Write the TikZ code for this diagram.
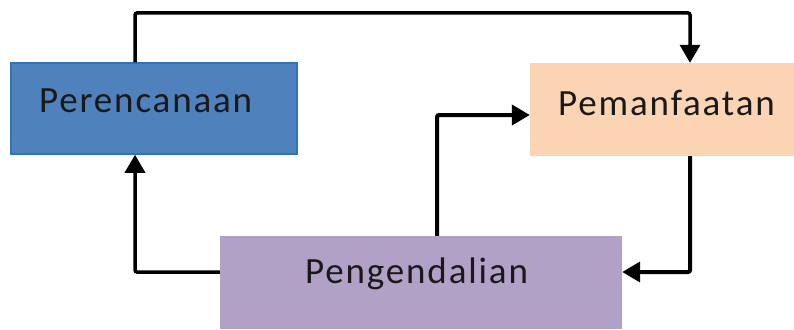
\documentclass[tikz,border=0pt]{standalone}
\usepackage{fontspec}
\setmainfont{Carlito}[LetterSpace=5]
\usetikzlibrary{arrows.meta}
\definecolor{blueF}{HTML}{4F81BD}
\definecolor{blueD}{HTML}{2E75B6}
\definecolor{peachF}{HTML}{FBD4B4}
\definecolor{lilacF}{HTML}{B2A1C7}
\tikzset{
  box/.style={draw=none, minimum width=0pt, inner sep=0pt},
  lbl/.style={font=\fontsize{37}{40}\selectfont, text=black!90, inner sep=0pt, anchor=base west},
  conn/.style={line width=3.5pt, rounded corners=2pt, -{Triangle[length=18pt,width=20pt]}},
}
\begin{document}
\begin{tikzpicture}[x=1pt,y=-1pt]
\useasboundingbox (0,0) rectangle (794,329);
% boxes
\node[box, fill=blueF, draw=blueD, line width=1.5pt, minimum width=286pt, minimum height=91pt] (per) at (154,108.5) {};
\node[box, fill=peachF, minimum width=264pt, minimum height=93pt] (pem) at (662,109.5) {};
\node[box, fill=lilacF, minimum width=402pt, minimum height=93pt] (pen) at (421,282.5) {};
% labels
\node[lbl] (tper) at (39,112) {Perencanaan};
\node[lbl] (tpem) at (558,115) {Pemanfaatan};
\node[lbl] (tpen) at (305,283) {Pengendalian};
% connectors
\coordinate (c1) at (135,13);
\coordinate (c2) at (690,13);
\draw[conn] (per.north -| c1) |- (c2) -- (pem.north -| c2);
\coordinate (c3) at (437,115);
\draw[conn, line width=4pt] (pen.north -| c3) |- (pem.west |- c3);
\coordinate (c4) at (690,272);
\draw[conn, line width=4pt] (pem.south -| c4) |- (pen.east |- c4);
\coordinate (c5) at (135,272);
\draw[conn] (pen.west |- c5) -| (per.south -| c5);
\end{tikzpicture}
\end{document}
